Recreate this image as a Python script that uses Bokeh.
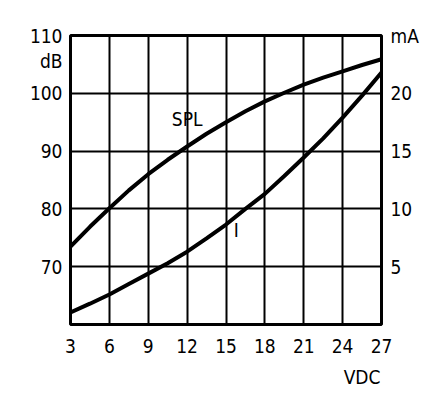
from bokeh.plotting import figure
from bokeh.models import Range1d, LinearAxis, FixedTicker, Label
from bokeh.embed import file_html
from bokeh.resources import INLINE

# Data
volts = [3, 4.5, 6, 7.5, 9, 10.5, 12, 13.5, 15, 16.5, 18, 19.5, 21, 22.5, 24, 25.5, 27]
spl_db = [73.5, 76.9, 80.1, 83.2, 86.0, 88.5, 90.8, 93.0, 95.0, 96.9, 98.6, 100.1, 101.5, 102.7, 103.8, 104.9, 105.9]
current_ma = [1.05, 1.8, 2.6, 3.5, 4.4, 5.3, 6.3, 7.45, 8.65, 10.0, 11.3, 12.85, 14.45, 16.1, 17.9, 19.8, 21.8]

x_ticks = [3, 6, 9, 12, 15, 18, 21, 24, 27]
db_ticks = [70, 80, 90, 100, 110]
ma_ticks = [5, 10, 15, 20]
db_unit_pos = 105.6
ma_unit_pos = 25
v_unit_pos = 25.5
FONT = "DejaVu Sans Condensed, Roboto, sans-serif"
FS = "19px"

p = figure(width=422, height=400, output_backend="svg", toolbar_location=None,
           x_range=Range1d(3, 27), y_range=Range1d(60, 110),
           min_border_left=70, min_border_right=41, min_border_top=35, min_border_bottom=76)
p.extra_y_ranges = {"ma": Range1d(0, 25)}

p.outline_line_color = "black"
p.outline_line_width = 3
p.outline_line_alpha = 1
p.background_fill_color = "white"
p.border_fill_color = "white"

p.xgrid.ticker = FixedTicker(ticks=x_ticks[1:-1])
p.ygrid.ticker = FixedTicker(ticks=db_ticks[:-1])
for g in (p.xgrid, p.ygrid):
    g.grid_line_color = "black"
    g.grid_line_width = 2
    g.grid_line_alpha = 1

def style_axis(ax, standoff):
    ax.axis_line_color = None
    ax.major_tick_line_color = None
    ax.minor_tick_line_color = None
    ax.major_tick_out = 0
    ax.major_tick_in = 0
    ax.minor_tick_out = 0
    ax.minor_tick_in = 0
    ax.major_label_text_font = FONT
    ax.major_label_text_font_size = FS
    ax.major_label_text_color = "black"
    ax.major_label_standoff = standoff

p.xaxis.ticker = FixedTicker(ticks=x_ticks)
style_axis(p.xaxis[0], 14)

vax = LinearAxis(ticker=FixedTicker(ticks=[v_unit_pos]))
vax.major_label_overrides = {v_unit_pos: "VDC"}
style_axis(vax, 10)
p.add_layout(vax, "below")

p.yaxis.ticker = FixedTicker(ticks=db_ticks + [db_unit_pos])
p.yaxis.major_label_overrides = {db_unit_pos: "dB"}
style_axis(p.yaxis[0], 8)

rax = LinearAxis(y_range_name="ma", ticker=FixedTicker(ticks=ma_ticks + [ma_unit_pos]))
rax.major_label_overrides = {ma_unit_pos: "mA"}
style_axis(rax, 9)
p.add_layout(rax, "right")

p.line(volts, spl_db, line_color="black", line_width=4)
p.line(volts, current_ma, y_range_name="ma", line_color="black", line_width=4)

p.add_layout(Label(x=12.0, y=95.5, text="SPL", text_font=FONT, text_font_size=FS,
                   text_align="center", text_baseline="middle", text_color="black"))
p.add_layout(Label(x=15.8, y=76.3, text="I", text_font=FONT, text_font_size=FS,
                   text_align="center", text_baseline="middle", text_color="black"))

open("out.html", "w").write(file_html(p, INLINE))
